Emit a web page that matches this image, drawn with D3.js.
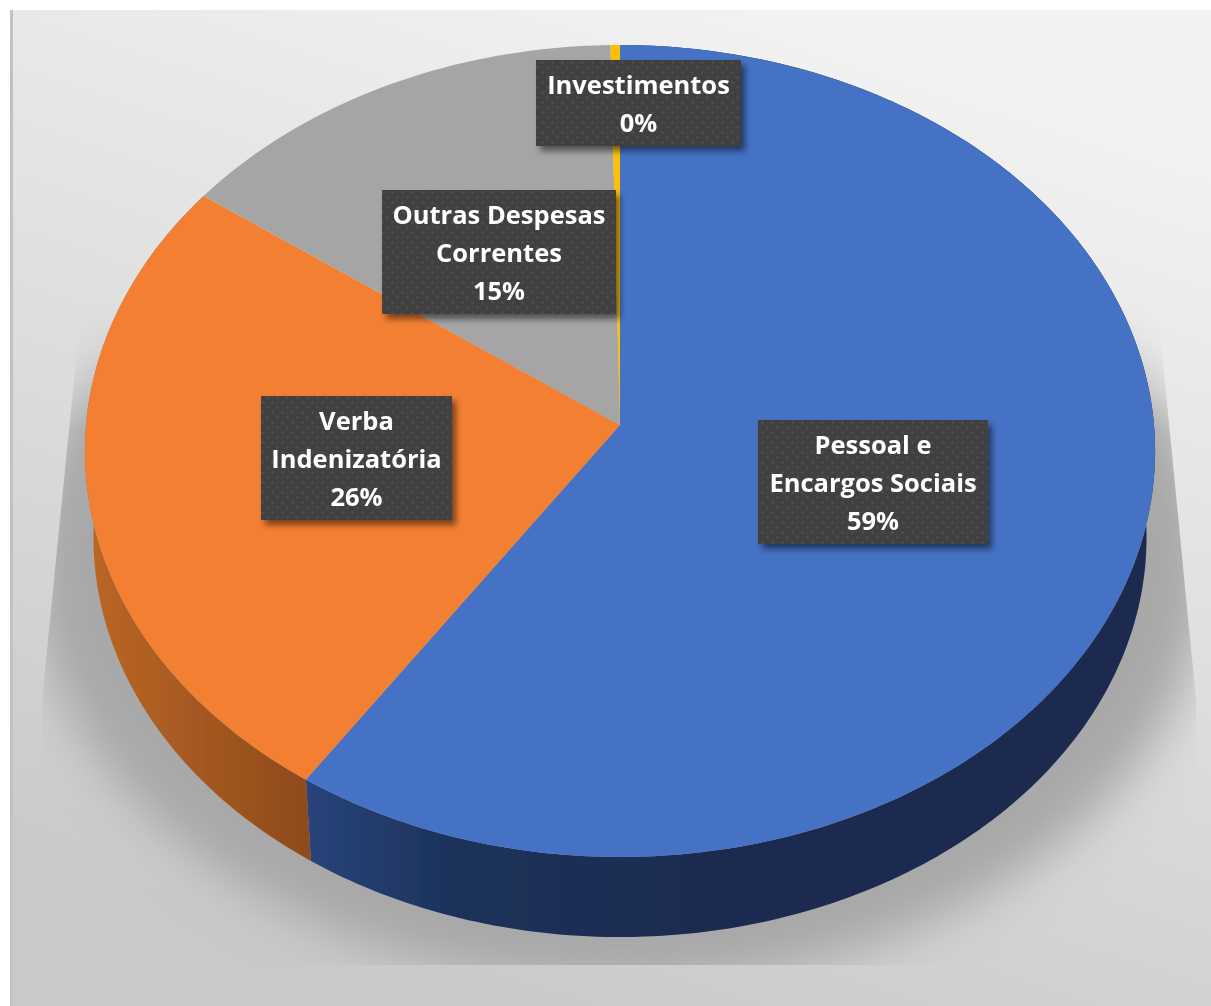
<!DOCTYPE html>
<html>
<head>
<meta charset="utf-8">
<script src="https://cdn.jsdelivr.net/npm/d3@7"></script>
<style>
	html, body { margin: 0; padding: 0; background: #fff; }
	svg { display: block; }
	text { font-family: "Open Sans", sans-serif; font-weight: 700; fill: #fff; }
</style>
</head>
<body>
<script>
// chart values
let categories = ["Pessoal e Encargos Sociais", "Verba Indenizatória", "Outras Despesas Correntes", "Investimentos"];
let values = [59.4, 25.6, 14.7, 0.3];
let labelLines = [["Pessoal e", "Encargos Sociais"], ["Verba", "Indenizatória"], ["Outras Despesas", "Correntes"], ["Investimentos"]];
let colors = ["#4472c4", "#f38033", "#a5a5a5", "#ffc000"];

// label boxes, same order as categories
let boxes = [
	{x0: 758, y0: 420, x1: 988, y1: 544},
	{x0: 261, y0: 396, x1: 452, y1: 520},
	{x0: 382, y0: 190, x1: 616, y1: 314},
	{x0: 536, y0: 60, x1: 741, y1: 146}
];

let width = 1211, height = 1006;

// perspective of the disc: unit circle -> screen
let apex = {x: 620, y: 425},
	persp = -0.064,
	spreadX = 534,
	spreadY = 404.3,
	bottomScale = 0.984,
	bottomApexY = 512;

function project(angle) {
	let u = Math.sin(angle), v = -Math.cos(angle), w = 1 + persp * v;
	return [u * spreadX / w, v * spreadY / w];
}
function topPoint(angle) {
	let p = project(angle);
	return [apex.x + p[0], apex.y + p[1]];
}
function bottomPoint(angle) {
	let p = project(angle);
	return [apex.x + p[0] * bottomScale, bottomApexY + p[1] * bottomScale];
}
function sampleAngles(d) {
	let n = Math.max(2, Math.ceil((d.endAngle - d.startAngle) * 60));
	return d3.range(n + 1).map(function(i) { return d.startAngle + (d.endAngle - d.startAngle) * i / n; });
}

let line = d3.line().curve(d3.curveLinearClosed);
let color = d3.scaleOrdinal().domain(categories).range(colors);
let pie = d3.pie().sort(null).value(function(d) { return d.value; });
let slices = pie(categories.map(function(c, i) { return {name: c, value: values[i], lines: labelLines[i], box: boxes[i]}; }));

let svg = d3.select("body").append("svg").attr("width", width).attr("height", height);
let defs = svg.append("defs");

// panel background
let bg = defs.append("linearGradient").attr("id", "bg")
	.attr("gradientUnits", "userSpaceOnUse")
	.attr("x1", 760).attr("y1", 10).attr("x2", 440).attr("y2", 1006);
bg.append("stop").attr("offset", 0).attr("stop-color", "#f2f2f2");
bg.append("stop").attr("offset", 1).attr("stop-color", "#c9c9c9");

// side wall gradients
let sideStops = [
	[[0, "#27447a"], [0.4, "#1c3159"], [1, "#1a2c50"]],
	[[0, "#bb6626"], [1, "#8e4a1a"]]
];
let sideRange = [[305, 700], [90, 310]];
sideStops.forEach(function(stops, i) {
	let g = defs.append("linearGradient").attr("id", "side" + i)
		.attr("gradientUnits", "userSpaceOnUse")
		.attr("x1", sideRange[i][0]).attr("y1", 0).attr("x2", sideRange[i][1]).attr("y2", 0);
	stops.forEach(function(s) { g.append("stop").attr("offset", s[0]).attr("stop-color", s[1]); });
});

defs.append("filter").attr("id", "shadowBlur")
	.attr("filterUnits", "userSpaceOnUse").attr("x", 0).attr("y", 0).attr("width", width).attr("height", height)
	.append("feGaussianBlur").attr("stdDeviation", 24);

defs.append("filter").attr("id", "soft")
	.append("feGaussianBlur").attr("stdDeviation", 0.5);

let boxShadow = defs.append("filter").attr("id", "boxShadow")
	.attr("x", "-10%").attr("y", "-10%").attr("width", "125%").attr("height", "130%");
boxShadow.append("feDropShadow").attr("dx", 4).attr("dy", 5).attr("stdDeviation", 3)
	.attr("flood-color", "#000").attr("flood-opacity", 0.5);

// dotted fill of the labels
let dots = defs.append("pattern").attr("id", "dots").attr("patternUnits", "userSpaceOnUse")
	.attr("width", 10).attr("height", 10);
dots.append("rect").attr("width", 10).attr("height", 10).attr("fill", "#3f3f3f");
dots.append("circle").attr("cx", 2.5).attr("cy", 2.5).attr("r", 1.2).attr("fill", "#505050");
dots.append("circle").attr("cx", 7.5).attr("cy", 7.5).attr("r", 1.2).attr("fill", "#505050");

// clip of the cast shadow, fading out towards its top
defs.append("clipPath").attr("id", "shadowClip")
	.append("path").attr("d", line([[82, 300], [1157, 300], [1196, 700], [1196, 965], [42, 965], [42, 700]]));

let fade = defs.append("linearGradient").attr("id", "shadowFade")
	.attr("gradientUnits", "userSpaceOnUse")
	.attr("x1", 0).attr("y1", 300).attr("x2", 0).attr("y2", 430);
fade.append("stop").attr("offset", 0).attr("stop-color", "#000");
fade.append("stop").attr("offset", 1).attr("stop-color", "#fff");

defs.append("mask").attr("id", "shadowMask")
	.attr("maskUnits", "userSpaceOnUse").attr("x", 0).attr("y", 0).attr("width", width).attr("height", height)
	.append("rect").attr("width", width).attr("height", height).attr("fill", "url(#shadowFade)");

svg.append("rect").attr("x", 10).attr("y", 10).attr("width", width - 10).attr("height", height - 10).attr("fill", "url(#bg)");
svg.append("rect").attr("x", 10).attr("y", 10).attr("width", 3).attr("height", height - 10).attr("fill", "#c2c2c2");

// cast shadow
svg.append("g").attr("clip-path", "url(#shadowClip)").attr("mask", "url(#shadowMask)")
	.append("ellipse")
	.attr("cx", 620).attr("cy", 560).attr("rx", 590).attr("ry", 425)
	.attr("fill", "#a8a8a8")
	.attr("filter", "url(#shadowBlur)");

let pieGroup = svg.append("g").attr("filter", "url(#soft)");

// side walls, only the two front slices show
pieGroup.selectAll("path.side")
	.data(slices.slice(0, 2))
	.enter().append("path")
	.attr("class", "side")
	.attr("fill", function(d, i) { return "url(#side" + i + ")"; })
	.attr("d", function(d) {
		let a = sampleAngles(d);
		return line(a.map(topPoint).concat(a.slice().reverse().map(bottomPoint)));
	});

// top face
pieGroup.selectAll("path.slice")
	.data(slices)
	.enter().append("path")
	.attr("class", "slice")
	.attr("fill", function(d) { return color(d.data.name); })
	.attr("d", function(d) {
		return line([[apex.x, apex.y]].concat(sampleAngles(d).map(topPoint)));
	});

// labels
let labels = svg.selectAll("g.label")
	.data(slices)
	.enter().append("g")
	.attr("class", "label");

labels.append("rect")
	.attr("x", function(d) { return d.data.box.x0; })
	.attr("y", function(d) { return d.data.box.y0; })
	.attr("width", function(d) { return d.data.box.x1 - d.data.box.x0; })
	.attr("height", function(d) { return d.data.box.y1 - d.data.box.y0; })
	.attr("fill", "url(#dots)")
	.attr("filter", "url(#boxShadow)");

let lineHeight = 38.2, fontSize = 25.5;
labels.each(function(d) {
	let g = d3.select(this),
		rows = d.data.lines.concat([Math.round(d.data.value) + "%"]),
		cx = (d.data.box.x0 + d.data.box.x1) / 2,
		cy = (d.data.box.y0 + d.data.box.y1) / 2;
	rows.forEach(function(r, i) {
		g.append("text")
			.attr("x", cx)
			.attr("y", cy + 1 + (i - (rows.length - 1) / 2) * lineHeight)
			.attr("dy", "0.36em")
			.attr("text-anchor", "middle")
			.attr("font-size", fontSize)
			.attr("filter", "url(#soft)")
			.text(r);
	});
});
</script>
</body>
</html>
